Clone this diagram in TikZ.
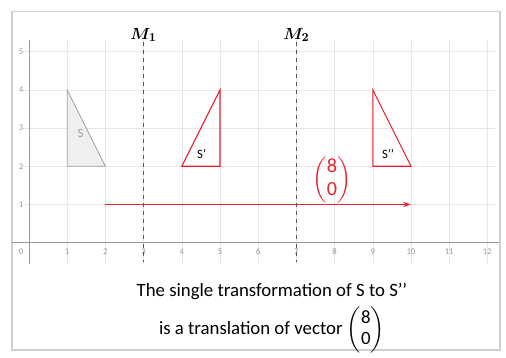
\documentclass[tikz,border=0pt]{standalone}
\usepackage{amsmath}
\usepackage{fontspec}
\setmainfont{Carlito}
\usepackage{tikz}
\usepackage{xcolor}
\usetikzlibrary{arrows.meta, positioning}
\definecolor{imgred}{HTML}{E8232B}
\definecolor{gridgray}{HTML}{E6E6E6}
\definecolor{axisgray}{HTML}{9A9A9A}
\definecolor{mirrorgray}{HTML}{555555}
\definecolor{shapegray}{HTML}{A0A0A0}
\definecolor{shapefill}{HTML}{EFEFEF}
\definecolor{framegray}{HTML}{CFCFCF}
\newcommand{\colvec}[3][-3pt]{$\left(\vcenter{\hbox{\begin{tabular}{@{}c@{}}#2\\[#1]#3\end{tabular}}}\right)$}

\begin{document}
\begin{tikzpicture}[x=1cm, y=1cm,
  tick/.style={font=\fontsize{6.5}{7}\selectfont, text=axisgray, inner sep=0pt},
  mirror/.style={draw=mirrorgray, dashed, thick},
  mlabel/.style={font=\fontsize{12.5}{14}\selectfont\boldmath, inner sep=1pt},
  shapelabel/.style={font=\fontsize{9.5}{11}\selectfont, inner sep=0pt},
  redtri/.style={draw=imgred, thick, line join=miter},
  vec/.style={-{Stealth[length=6pt, width=4pt]}, draw=imgred, thick},
  caption/.style={font=\fontsize{14}{17}\selectfont, align=center, inner sep=0pt}]

\useasboundingbox (-0.759,-3.018) rectangle (12.487,6.353);
\draw[framegray, line width=0.8pt] (-0.445,-2.81) rectangle (12.33,6.04);

\draw[gridgray, line width=0.4pt] (-0.2,-0.55) grid (12.2,5.3);
\draw[axisgray, line width=0.6pt] (-0.445,0) -- (12.3,0);
\draw[axisgray, line width=0.6pt] (0,-0.55) -- (0,5.3);

\node[tick] (t0) at (-0.21,-0.24) {0};
\foreach \i in {1,...,12} \node[tick] (tx\i) at (\i,-0.24) {\i};
\foreach \j in {1,...,5} \node[tick] (ty\j) at (-0.21,\j) {\j};

\coordinate (mtop1) at (3,5.25);
\coordinate (mbot1) at (3,-0.5);
\coordinate (mtop2) at (7,5.25);
\coordinate (mbot2) at (7,-0.5);
\draw[mirror] (mtop1) -- (mbot1);
\draw[mirror] (mtop2) -- (mbot2);
\node[mlabel, above=-1pt of mtop1] (m1) {$M_1$};
\node[mlabel, above=-1pt of mtop2] (m2) {$M_2$};

\draw[draw=shapegray, fill=shapefill, line width=0.6pt] (1,4) -- (1,2) -- (2,2) -- cycle;
\node[shapelabel, text=shapegray] (s) at (1.35,2.85) {S};

\draw[redtri] (5,4) -- (5,2) -- (4,2) -- cycle;
\node[shapelabel] (s1) at (4.52,2.33) {S’};

\draw[redtri] (9,4) -- (9,2) -- (10,2) -- cycle;
\node[shapelabel] (s2) at (9.4,2.33) {S’’};

\coordinate (vstart) at (2,1);
\coordinate (vend) at (10,1);
\draw[vec] (vstart) -- (vend);
\node[text=imgred, font=\fontsize{15}{16}\selectfont, inner sep=0pt] (vlabel) at (7.93,1.64) {\colvec[1pt]{8}{0}};

\node[caption, anchor=north] (caption) at (6.36,-1.06) {The single transformation of S to S’’\\[4pt]
  is a translation of vector \colvec[-1.5pt]{8}{0}};
\end{tikzpicture}
\end{document}
